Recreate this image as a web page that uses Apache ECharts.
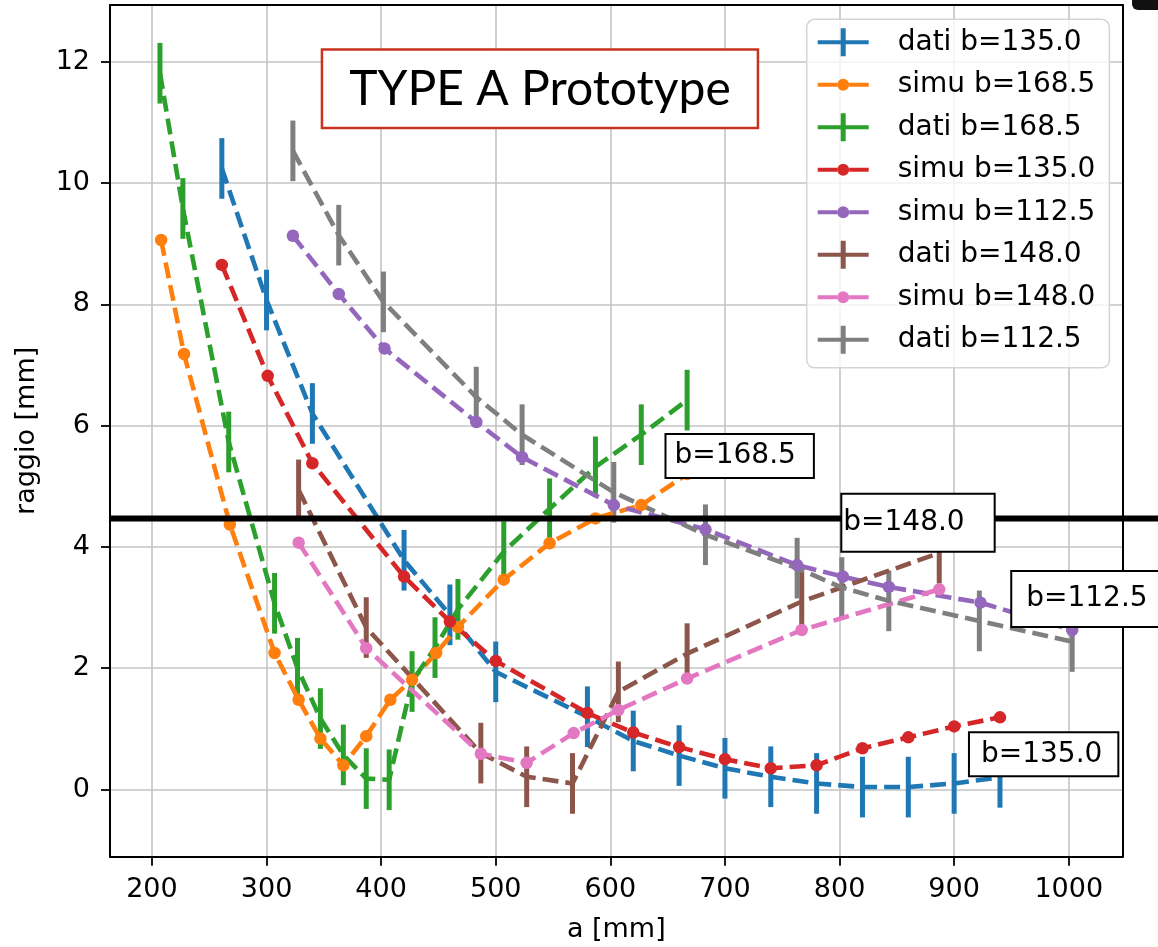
<!DOCTYPE html>
<html>
<head>
<meta charset="utf-8">
<title>TYPE A Prototype</title>
<script src="https://cdn.jsdelivr.net/npm/echarts@6/dist/echarts.min.js"></script>
<style>
  html, body { margin: 0; padding: 0; background: #fff; }
  #main { width: 1158px; height: 947px; }
</style>
</head>
<body>
<div id="main"></div>
<script>
// tick labels
var xTicks = [200, 300, 400, 500, 600, 700, 800, 900, 1000];
var yTicks = [0, 2, 4, 6, 8, 10, 12];

// dati b=135.0 (misure, con barre d'errore)
var dati135A = [261, 300, 340, 420, 460, 500, 580, 620, 660, 700, 740, 780, 820, 860, 900, 940];
var dati135R = [10.24, 8.07, 6.2, 3.78, 2.88, 1.94, 1.2, 0.8, 0.56, 0.35, 0.21, 0.1, 0.04, 0.04, 0.1, 0.2];
var dati135E = [0.5, 0.5, 0.5, 0.5, 0.5, 0.5, 0.5, 0.5, 0.5, 0.5, 0.5, 0.5, 0.5, 0.5, 0.5, 0.5];

// simu b=168.5
var simu168A = [208, 228, 268, 307, 328, 347, 367, 387, 408, 427, 448, 467, 507, 547, 587, 627, 667];
var simu168R = [9.06, 7.18, 4.37, 2.25, 1.48, 0.84, 0.4, 0.88, 1.48, 1.81, 2.25, 2.68, 3.46, 4.06, 4.47, 4.69, 5.2];

// dati b=168.5
var dati168A = [207, 227, 267, 307, 327, 347, 367, 387, 407, 427, 447, 467, 507, 547, 587, 627, 667];
var dati168R = [11.81, 9.58, 5.73, 3.07, 2.0, 1.17, 0.57, 0.18, 0.16, 1.78, 2.34, 2.97, 3.92, 4.63, 5.32, 5.85, 6.42];
var dati168E = [0.5, 0.5, 0.5, 0.5, 0.5, 0.5, 0.5, 0.5, 0.5, 0.5, 0.5, 0.5, 0.5, 0.5, 0.5, 0.5, 0.5];

// simu b=135.0
var simu135A = [261, 301, 340, 420, 460, 500, 580, 620, 660, 700, 740, 780, 820, 860, 900, 940];
var simu135R = [8.65, 6.82, 5.38, 3.51, 2.77, 2.12, 1.26, 0.94, 0.7, 0.5, 0.35, 0.4, 0.68, 0.86, 1.04, 1.19];

// simu b=112.5
var simu112A = [323, 363, 403, 483, 523, 603, 683, 763, 803, 843, 923, 1003];
var simu112R = [9.13, 8.17, 7.27, 6.06, 5.48, 4.69, 4.29, 3.7, 3.51, 3.34, 3.08, 2.63];

// dati b=148.0
var dati148A = [328, 387, 487, 527, 567, 607, 667, 767, 887];
var dati148R = [4.94, 2.67, 0.6, 0.21, 0.1, 1.61, 2.24, 3.1, 3.9];
var dati148E = [0.5, 0.5, 0.5, 0.5, 0.5, 0.5, 0.5, 0.5, 0.5];

// simu b=148.0
var simu148A = [328, 387, 487, 527, 568, 607, 667, 767, 887];
var simu148R = [4.07, 2.33, 0.59, 0.44, 0.93, 1.31, 1.83, 2.63, 3.3];

// dati b=112.5
var dati112A = [323, 363, 402, 483, 523, 603, 683, 763, 802, 843, 922, 1003];
var dati112R = [10.53, 9.14, 8.04, 6.47, 5.85, 4.9, 4.2, 3.65, 3.33, 3.11, 2.78, 2.44];
var dati112E = [0.5, 0.5, 0.5, 0.5, 0.5, 0.5, 0.5, 0.5, 0.5, 0.5, 0.5, 0.5];

// linea orizzontale nera
var sogliaR = 4.47;

// etichette b=...
var labelText = ["b=168.5", "b=148.0", "b=112.5", "b=135.0"];
var labelA = [649, 802.4, 950.7, 913.8];
var labelR = [5.5, 4.4, 3.14, 0.58];

var X_MIN = 163.4, X_MAX = 1047;
var Y_MIN = -1.108, Y_MAX = 12.935;

var FONT = "DejaVu Sans";
var DASH = [16, 7];
var LW = 4.6;

// icone legenda (linea + barra, linea + punto)
var corners = "M0,0h0.01v0.01h-0.01Z M50.99,27.99h0.01v0.01h-0.01Z ";
var iconDati = "path://" + corners + "M0,12h23v4H0Z M23,0h5v28h-5Z M28,12h23v4H28Z";
var iconSimu = "path://" + corners + "M0,12h19.5v4H0Z M31.5,12H51v4H31.5Z M19.5,14a6,6 0 1,0 12,0a6,6 0 1,0 -12,0Z";

function zip(a, r, e) {
  return a.map(function (v, i) { return e ? [v, r[i], e[i]] : [v, r[i]]; });
}

// serie dati: linea tratteggiata + barre d'errore
function datiSeries(name, color, a, r, e) {
  return [
    {
      name: name,
      type: "line",
      color: color,
      data: zip(a, r),
      symbol: "none",
      lineStyle: { color: color, width: LW, type: DASH },
      z: 2
    },
    {
      name: name,
      type: "custom",
      color: color,
      data: zip(a, r, e),
      renderItem: function (params, api) {
        var p1 = api.coord([api.value(0), api.value(1) - api.value(2)]);
        var p2 = api.coord([api.value(0), api.value(1) + api.value(2)]);
        return {
          type: "line",
          shape: { x1: p1[0], y1: p1[1], x2: p2[0], y2: p2[1] },
          style: { stroke: color, lineWidth: 5 }
        };
      },
      z: 2
    }
  ];
}

// serie simu: linea tratteggiata + punti
function simuSeries(name, color, a, r) {
  return {
    name: name,
    type: "line",
    color: color,
    data: zip(a, r),
    symbol: "circle",
    symbolSize: 12.5,
    showSymbol: true,
    itemStyle: { color: color },
    lineStyle: { color: color, width: LW, type: DASH },
    z: 2
  };
}

var series = [].concat(
  datiSeries("dati b=135.0", "#1f77b4", dati135A, dati135R, dati135E),
  [simuSeries("simu b=168.5", "#ff7f0e", simu168A, simu168R)],
  datiSeries("dati b=168.5", "#2ca02c", dati168A, dati168R, dati168E),
  [simuSeries("simu b=135.0", "#d62728", simu135A, simu135R)],
  [simuSeries("simu b=112.5", "#9467bd", simu112A, simu112R)],
  datiSeries("dati b=148.0", "#8c564b", dati148A, dati148R, dati148E),
  [simuSeries("simu b=148.0", "#e377c2", simu148A, simu148R)],
  datiSeries("dati b=112.5", "#7f7f7f", dati112A, dati112R, dati112E)
);

// riquadri b=...
var labelPads = [[4, 17, 4, 8], [5, 29, 17, 1], [10, 14, 10, 14], [4, 15, 4, 11]];
series.push({
  name: "etichette",
  type: "scatter",
  symbolSize: 0,
  clip: false,
  z: 5,
  silent: true,
  data: labelText.map(function (t, i) {
    return {
      value: [labelA[i], labelR[i]],
      label: {
        show: true,
        position: "right",
        distance: 0,
        formatter: t,
        fontFamily: FONT,
        fontSize: 28,
        lineHeight: 34,
        color: "#000",
        opacity: 1,
        backgroundColor: "#fff",
        borderColor: "#000",
        borderWidth: 2,
        padding: labelPads[i]
      }
    };
  })
});

var legendNames = ["dati b=135.0", "simu b=168.5", "dati b=168.5", "simu b=135.0",
  "simu b=112.5", "dati b=148.0", "simu b=148.0", "dati b=112.5"];

var myChart = echarts.init(document.getElementById("main"), null, { renderer: "canvas" });

myChart.setOption({
  animation: false,
  grid: { left: 110, right: 35.4, top: 5, bottom: 90.3, outerBoundsMode: "none", containLabel: false },
  legend: {
    orient: "vertical",
    left: 806.7,
    top: 19.3,
    selectedMode: false,
    itemWidth: 51,
    itemHeight: 28,
    itemGap: 14.5,
    padding: [9, 14, 14, 11],
    backgroundColor: "rgba(255,255,255,0.8)",
    borderColor: "#d4d4d4",
    borderWidth: 1.5,
    borderRadius: 8,
    textStyle: { fontFamily: FONT, fontSize: 28, lineHeight: 28, color: "#000", padding: [0, 0, 0, 24] },
    data: legendNames.map(function (n) {
      return { name: n, icon: n.indexOf("dati") === 0 ? iconDati : iconSimu };
    }),
    z: 6
  },
  xAxis: [
    {
      type: "value",
      min: X_MIN,
      max: X_MAX,
      minInterval: 100,
      maxInterval: 100,
      name: "a [mm]",
      nameLocation: "middle",
      nameGap: 60,
      nameTextStyle: { fontFamily: FONT, fontSize: 27, color: "#000" },
      axisLine: { show: true, onZero: false, lineStyle: { color: "#000", width: 2 } },
      axisTick: { show: true, inside: false, length: 9, customValues: xTicks, lineStyle: { color: "#000", width: 1.8 } },
      axisLabel: {
        customValues: xTicks, margin: 20, fontFamily: FONT, fontSize: 27, color: "#000",
        formatter: function (v) { return String(v); }
      },
      splitLine: { show: true, lineStyle: { color: "#c4c4c4", width: 1.6 } }
    },
    {
      type: "value",
      position: "top",
      min: X_MIN,
      max: X_MAX,
      axisLine: { show: true, onZero: false, lineStyle: { color: "#000", width: 2 } },
      axisTick: { show: false },
      axisLabel: { show: false },
      splitLine: { show: false }
    }
  ],
  yAxis: [
    {
      type: "value",
      min: Y_MIN,
      max: Y_MAX,
      minInterval: 2,
      maxInterval: 2,
      name: "raggio [mm]",
      nameLocation: "middle",
      nameGap: 70,
      nameTextStyle: { fontFamily: FONT, fontSize: 27, color: "#000" },
      axisLine: { show: true, onZero: false, lineStyle: { color: "#000", width: 2 } },
      axisTick: { show: true, inside: false, length: 9, customValues: yTicks, lineStyle: { color: "#000", width: 1.8 } },
      axisLabel: {
        customValues: yTicks, margin: 20, fontFamily: FONT, fontSize: 27, color: "#000",
        formatter: function (v) { return String(v); }
      },
      splitLine: { show: true, lineStyle: { color: "#c4c4c4", width: 1.6 } }
    },
    {
      type: "value",
      position: "right",
      min: Y_MIN,
      max: Y_MAX,
      axisLine: { show: true, onZero: false, lineStyle: { color: "#000", width: 2 } },
      axisTick: { show: false },
      axisLabel: { show: false },
      splitLine: { show: false }
    }
  ],
  series: series
});

// linea nera a raggio costante: dall'asse sinistro fino al bordo della figura
var pStart = myChart.convertToPixel({ gridIndex: 0 }, [X_MIN, sogliaR]);

myChart.setOption({
  graphic: [
    {
      type: "line",
      z: 4,
      shape: { x1: pStart[0], y1: pStart[1], x2: myChart.getWidth(), y2: pStart[1] },
      style: { stroke: "#000", lineWidth: 6 }
    },
    {
      type: "group",
      left: 320.7,
      top: 48.3,
      z: 10,
      children: [
        {
          type: "rect",
          shape: { x: 0, y: 0, width: 436, height: 78.4 },
          style: { fill: "#fff", stroke: "#c8321e", lineWidth: 2.5 }
        },
        {
          type: "text",
          x: 218,
          y: 40,
          style: {
            text: "TYPE A Prototype",
            fontFamily: "Lato",
            fontSize: 48,
            fill: "#000",
            align: "center",
            verticalAlign: "middle"
          }
        }
      ]
    },
    {
      type: "rect",
      right: -14,
      top: -10,
      z: 10,
      shape: { width: 40, height: 20, r: 6 },
      style: { fill: "#111" }
    }
  ]
});

myChart.resize();
</script>
</body>
</html>
